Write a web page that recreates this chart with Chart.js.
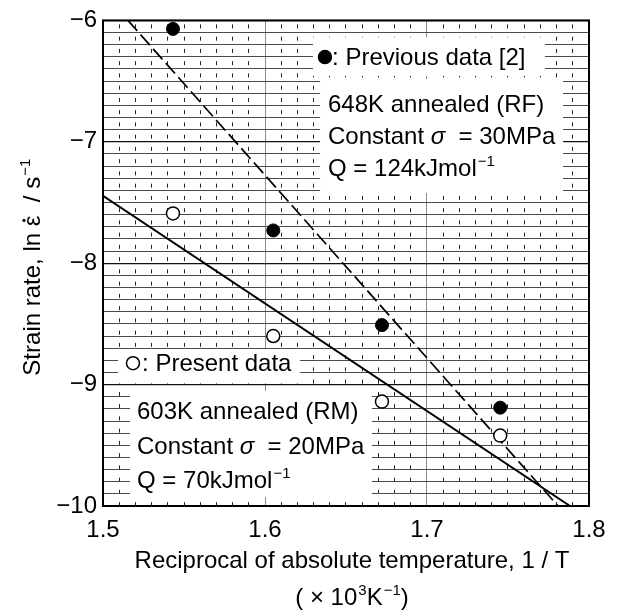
<!DOCTYPE html>
<html>
<head>
<meta charset="utf-8">
<script src="https://cdn.jsdelivr.net/npm/chart.js@4.4.1/dist/chart.umd.min.js"></script>
<style>
  html, body { margin: 0; padding: 0; background: #fff; }
  #wrap { width: 623px; height: 612px; }
</style>
</head>
<body>
<div id="wrap"><canvas id="myChart" width="623" height="612"></canvas></div>
<script>
// 1/T (x10^3 K^-1) for 648, 623, 598 and 573 K
const invTemp = [1.5432, 1.6051, 1.6722, 1.7452];
const previousRate = [-6.07, -7.73, -8.51, -9.19];
const presentRate = [-7.59, -8.60, -9.14, -9.42];

// Arrhenius fits (end points)
const rfFitX = [1.5154, 1.7809];
const rfFitY = [-6, -10];
const rmFitX = [1.5, 1.7883];
const rmFitY = [-7.445, -10];

const xTickLabels = ['1.5', '1.6', '1.7', '1.8'];
const yTickLabels = ['−10', '−9', '−8', '−7', '−6'];

const FONT = "'Liberation Sans', Arial, Helvetica, sans-serif";

document.addEventListener("DOMContentLoaded", function () {
    const ctx = document.getElementById('myChart').getContext('2d');

    function pts(xs, ys) {
        return xs.map((v, i) => ({ x: v, y: ys[i] }));
    }

    function labelFor(list, value) {
        const hit = list.find(l => Math.abs(parseFloat(l.replace('−', '-')) - value) < 1e-6);
        return hit || '';
    }

    function segWidth(c, segs) {
        let w = 0;
        segs.forEach(s => {
            c.font = s.sup ? '15px ' + FONT : (s.it ? 'italic ' : '') + '24px ' + FONT;
            w += c.measureText(s.t).width + (s.sup ? 1 : 0);
        });
        return w;
    }

    // text with italic / superscript pieces on a baseline
    function drawSegs(c, segs, x, base) {
        let cx = x;
        segs.forEach(s => {
            if (s.sup) {
                c.font = '15px ' + FONT;
                c.fillText(s.t, cx + 1, base - 10);
                cx += c.measureText(s.t).width + 1;
            } else {
                c.font = (s.it ? 'italic ' : '') + '24px ' + FONT;
                c.fillText(s.t, cx, base);
                if (s.dot) {
                    const w = c.measureText(s.t).width;
                    c.beginPath();
                    c.arc(cx + w / 2 + 0.5, base - 16, 1.6, 0, Math.PI * 2);
                    c.fill();
                }
                cx += c.measureText(s.t).width;
            }
        });
    }

    function drawRich(c, segs, x, yMid) {
        drawSegs(c, segs, x, yMid + 8);
    }

    function marker(c, x, y, filled) {
        c.beginPath();
        c.arc(x, y, 6.5, 0, Math.PI * 2);
        c.fillStyle = filled ? '#000' : '#fff';
        c.fill();
        c.lineWidth = 1.5;
        c.strokeStyle = '#000';
        c.stroke();
    }

    const notesPlugin = {
        id: 'notes',
        beforeDatasetsDraw(chart) {
            const c = chart.ctx;
            const sx = chart.scales.x, sy = chart.scales.y;
            const px = v => sx.getPixelForValue(v);
            const py = v => sy.getPixelForValue(v);
            const a = chart.chartArea;

            c.save();
            // white patches over the graph paper, in data units
            const boxes = [
                [1.6296, 1.7728, -6.139, -6.457],
                [1.6340, 1.7840, -6.482, -7.420],
                [1.5093, 1.6216, -8.710, -8.988],
                [1.5167, 1.6660, -9.053, -9.927]
            ];
            c.fillStyle = '#fff';
            boxes.forEach(b => {
                c.fillRect(px(b[0]), py(b[2]), px(b[1]) - px(b[0]), py(b[3]) - py(b[2]));
            });

            c.fillStyle = '#000';
            c.textAlign = 'left';
            c.textBaseline = 'alphabetic';

            marker(c, px(1.637), py(-6.302), true);
            c.fillStyle = '#000';
            drawRich(c, [{ t: ': Previous data [2]' }], px(1.6414), py(-6.302));

            drawRich(c, [{ t: '648K annealed (RF)' }], px(1.6389), py(-6.686));
            drawRich(c, [{ t: 'Constant ' }, { t: 'σ', it: true }, { t: '  = 30MPa' }], px(1.6389), py(-6.955));
            drawRich(c, [{ t: 'Q = 124kJmol' }, { t: '−1', sup: true }], px(1.6389), py(-7.216));

            marker(c, px(1.5185), py(-8.824), false);
            c.fillStyle = '#000';
            drawRich(c, [{ t: ': Present data' }], px(1.5241), py(-8.824));

            drawRich(c, [{ t: '603K annealed (RM)' }], px(1.521), py(-9.216));
            drawRich(c, [{ t: 'Constant ' }, { t: 'σ', it: true }, { t: '  = 20MPa' }], px(1.521), py(-9.502));
            drawRich(c, [{ t: 'Q = 70kJmol' }, { t: '−1', sup: true }], px(1.521), py(-9.788));

            // frame
            c.lineWidth = 2;
            c.strokeStyle = '#000';
            c.strokeRect(a.left, a.top, a.right - a.left, a.bottom - a.top);
            c.restore();
        },
        afterDraw(chart) {
            const c = chart.ctx;
            const a = chart.chartArea;
            c.save();
            c.fillStyle = '#000';
            c.textAlign = 'left';
            c.textBaseline = 'alphabetic';

            // x axis title, two lines
            const cx = (a.left + a.right) / 2 + 6;
            const line1 = [{ t: 'Reciprocal of absolute temperature, 1 / T' }];
            const line2 = [{ t: '( × 10' }, { t: '3', sup: true }, { t: 'K' }, { t: '−1', sup: true }, { t: ')' }];
            drawSegs(c, line1, cx - segWidth(c, line1) / 2, a.bottom + 62);
            drawSegs(c, line2, cx - segWidth(c, line2) / 2, a.bottom + 99);

            // y axis title, rotated
            const yt = [{ t: 'Strain rate, ln ' }, { t: 'ε', dot: true }, { t: '  / s' }, { t: '−1', sup: true }];
            c.translate(40, (a.top + a.bottom) / 2 + 4);
            c.rotate(-Math.PI / 2);
            drawSegs(c, yt, -segWidth(c, yt) / 2, 0);
            c.restore();
        }
    };

    Chart.defaults.font.family = FONT;
    Chart.defaults.color = '#000';

    new Chart(ctx, {
        type: 'scatter',
        data: {
            datasets: [{
                label: 'Previous data [2]',
                data: pts(invTemp, previousRate),
                pointRadius: 6.5,
                pointBackgroundColor: '#000',
                pointBorderColor: '#000',
                pointBorderWidth: 1
            }, {
                label: 'Present data',
                data: pts(invTemp, presentRate),
                pointRadius: 6.5,
                pointBackgroundColor: '#fff',
                pointBorderColor: '#000',
                pointBorderWidth: 1.5
            }, {
                label: '648K annealed (RF)',
                data: pts(rfFitX, rfFitY),
                showLine: true,
                borderColor: '#000',
                borderWidth: 1.7,
                borderDash: [14, 5],
                pointRadius: 0
            }, {
                label: '603K annealed (RM)',
                data: pts(rmFitX, rmFitY),
                showLine: true,
                borderColor: '#000',
                borderWidth: 2,
                pointRadius: 0
            }]
        },
        options: {
            responsive: false,
            animation: false,
            layout: { padding: { top: 16, right: 34, left: 0, bottom: 0 } },
            plugins: {
                legend: { display: false },
                tooltip: { enabled: false }
            },
            scales: {
                x: {
                    type: 'linear',
                    min: 1.5,
                    max: 1.8,
                    afterFit: s => { s.height = 106; },
                    border: {
                        display: false,
                        dash: c => (isMajorX(c.tick) ? [] : [4, 8.25]),
                        dashOffset: 8.25
                    },
                    grid: {
                        drawTicks: false,
                        color: c => (isMajorX(c.tick) ? '#8a8a8a' : '#222'),
                        lineWidth: 1
                    },
                    ticks: {
                        stepSize: 0.01,
                        autoSkip: false,
                        maxRotation: 0,
                        padding: 10,
                        font: { size: 24 },
                        callback: v => labelFor(xTickLabels, v)
                    },
                    title: { display: false }
                },
                y: {
                    type: 'linear',
                    min: -10,
                    max: -6,
                    afterFit: s => { s.width = 103; },
                    border: { display: false },
                    grid: {
                        drawTicks: false,
                        color: c => (isWhole(c.tick) ? '#111' : '#4a4a4a'),
                        lineWidth: c => (isWhole(c.tick) ? 1.3 : 1)
                    },
                    ticks: {
                        stepSize: 0.1,
                        autoSkip: false,
                        padding: 6,
                        font: { size: 24 },
                        callback: v => labelFor(yTickLabels, v)
                    },
                    title: { display: false }
                }
            }
        },
        plugins: [notesPlugin]
    });

    function isMajorX(tick) {
        if (!tick) return false;
        return Math.abs(tick.value * 10 - Math.round(tick.value * 10)) < 1e-6;
    }

    function isWhole(tick) {
        if (!tick) return false;
        return Math.abs(tick.value - Math.round(tick.value)) < 1e-6;
    }
});
</script>
</body>
</html>
